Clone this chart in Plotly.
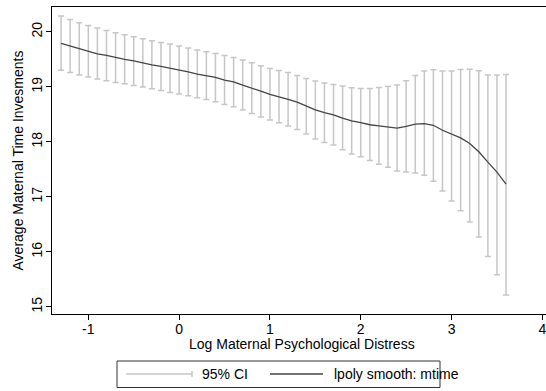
import plotly.graph_objects as go

# ---- data ----
x_vals = [round(-1.3 + 0.1 * i, 1) for i in range(50)]

ci_upper = [20.285, 20.225, 20.164, 20.116, 20.067, 20.025, 19.982, 19.946, 19.910, 19.873,
            19.837, 19.807, 19.776, 19.740, 19.704, 19.667, 19.637, 19.607, 19.570, 19.534,
            19.485, 19.437, 19.382, 19.334, 19.298, 19.261, 19.207, 19.152, 19.104, 19.067,
            19.043, 19.013, 18.982, 18.970, 18.970, 18.985, 19.003, 19.031, 19.110, 19.203,
            19.288, 19.310, 19.285, 19.288, 19.313, 19.320, 19.291, 19.213, 19.213, 19.225]

ci_lower = [19.300, 19.261, 19.213, 19.176, 19.140, 19.110, 19.079, 19.055, 19.025, 18.995,
            18.964, 18.934, 18.898, 18.867, 18.837, 18.801, 18.770, 18.728, 18.679, 18.637,
            18.576, 18.515, 18.449, 18.395, 18.346, 18.285, 18.225, 18.140, 18.049, 17.988,
            17.940, 17.855, 17.776, 17.728, 17.658, 17.594, 17.537, 17.467, 17.449, 17.431,
            17.392, 17.285, 17.104, 16.925, 16.746, 16.540, 16.270, 15.913, 15.582, 15.216]

smooth = [19.79, 19.74, 19.69, 19.65, 19.60, 19.57, 19.53, 19.50, 19.47, 19.43,
          19.40, 19.37, 19.34, 19.30, 19.27, 19.23, 19.20, 19.17, 19.12, 19.09,
          19.03, 18.98, 18.92, 18.86, 18.82, 18.77, 18.72, 18.65, 18.58, 18.53,
          18.49, 18.43, 18.38, 18.35, 18.31, 18.29, 18.27, 18.25, 18.28, 18.32,
          18.33, 18.30, 18.21, 18.14, 18.07, 17.97, 17.82, 17.63, 17.45, 17.23]

x_ticks = [-1, 0, 1, 2, 3, 4]
x_ticklabels = ["-1", "0", "1", "2", "3", "4"]
y_ticks = [15, 16, 17, 18, 19, 20]
y_ticklabels = ["15", "16", "17", "18", "19", "20"]

x_title = "Log Maternal Psychological Distress"
y_title = "Average Maternal Time Invesments"
legend_labels = ["95% CI", "lpoly smooth: mtime"]

# ---- styling ----
CI_COLOR = "#c6c6c6"
LINE_COLOR = "#444444"
FONT = "Liberation Sans, Arial, sans-serif"

W, H = 546, 391
ML, MR, MT, MB = 52, 0, 7, 77

mid = [(u + l) / 2 for u, l in zip(ci_upper, ci_lower)]
err_plus = [u - m for u, m in zip(ci_upper, mid)]
err_minus = [m - l for m, l in zip(mid, ci_lower)]

fig = go.Figure()
fig.add_trace(go.Scatter(
    x=x_vals, y=mid, mode="markers",
    marker=dict(size=1, opacity=0),
    error_y=dict(type="data", array=err_plus, arrayminus=err_minus, symmetric=False,
                 color=CI_COLOR, thickness=1.5, width=3),
    showlegend=False, hoverinfo="skip"))
fig.add_trace(go.Scatter(
    x=x_vals, y=smooth, mode="lines",
    line=dict(color=LINE_COLOR, width=1.3),
    showlegend=False))

pw = W - ML - MR
ph = H - MT - MB


def px_x(p):
    return (p - ML) / pw


def px_y(p):
    return (H - MB - p) / ph


shapes = []
annotations = []
# x-axis title
annotations.append(dict(xref="paper", yref="paper", x=px_x(302), y=px_y(344),
                        text=x_title, showarrow=False, xanchor="center",
                        yanchor="middle", font=dict(family=FONT, size=14, color="black")))
# legend box
shapes.append(dict(type="rect", xref="paper", yref="paper",
                   x0=px_x(117), x1=px_x(440), y0=px_y(387.5), y1=px_y(361),
                   line=dict(color="#333333", width=1), fillcolor="white"))
ly = px_y(374)
# CI key: line with cap at right
shapes.append(dict(type="line", xref="paper", yref="paper",
                   x0=px_x(126), x1=px_x(192), y0=ly, y1=ly,
                   line=dict(color=CI_COLOR, width=1.5)))
shapes.append(dict(type="line", xref="paper", yref="paper",
                   x0=px_x(192), x1=px_x(192), y0=px_y(371), y1=px_y(377),
                   line=dict(color=CI_COLOR, width=1.5)))
annotations.append(dict(xref="paper", yref="paper", x=px_x(200), y=ly,
                        text=legend_labels[0], showarrow=False, xanchor="left",
                        yanchor="middle", font=dict(family=FONT, size=14, color="black")))
shapes.append(dict(type="line", xref="paper", yref="paper",
                   x0=px_x(270), x1=px_x(323), y0=ly, y1=ly,
                   line=dict(color=LINE_COLOR, width=1.3)))
annotations.append(dict(xref="paper", yref="paper", x=px_x(332), y=ly,
                        text=legend_labels[1], showarrow=False, xanchor="left",
                        yanchor="middle", font=dict(family=FONT, size=14, color="black")))

fig.update_layout(
    width=W, height=H,
    margin=dict(l=ML, r=MR, t=MT, b=MB, pad=0, autoexpand=False),
    paper_bgcolor="white", plot_bgcolor="white",
    font=dict(family=FONT, size=14, color="black"),
    shapes=shapes, annotations=annotations,
    xaxis=dict(range=[-1.40, 4.04], tickmode="array", tickvals=x_ticks,
               ticktext=x_ticklabels, ticklabelstandoff=-3, ticklabeloverflow="allow",
               ticks="outside", ticklen=5, tickcolor="black", tickwidth=1,
               showline=True, linecolor="black", linewidth=1, mirror=True,
               showgrid=False, zeroline=False, automargin=False,
               tickfont=dict(size=14)),
    yaxis=dict(range=[14.87, 20.45], tickmode="array", tickvals=y_ticks,
               ticktext=y_ticklabels, ticklabelstandoff=-2,
               ticks="outside", ticklen=5, tickcolor="black", tickwidth=1,
               showline=True, linecolor="black", linewidth=1,
               showgrid=False, zeroline=False, tickangle=-90, automargin=False,
               title=dict(text=y_title, standoff=2, font=dict(size=14)),
               tickfont=dict(size=14)),
)

fig.write_html("out.html", config={"displayModeBar": False},
               post_script="document.body.style.margin='0';")
